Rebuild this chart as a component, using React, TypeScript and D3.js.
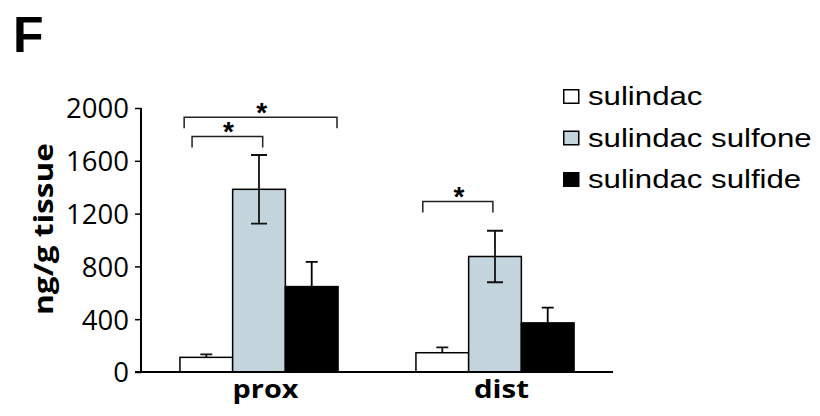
import { useEffect, useRef } from "react";
import * as d3 from "d3";

const regions = ["prox", "dist"];
const compounds = ["sulindac", "sulindac sulfone", "sulindac sulfide"];
const fills = ["#ffffff", "#c3d4dd", "#000000"];

// mean and error (ng/g tissue), per region, in compound order
const means = [
  [111, 1384, 647],
  [146, 875, 372],
];
const errors = [
  [23, 260, 187],
  [41, 195, 116],
];
// error bars drawn both ways only for the sulfone
const twoSided = [false, true, false];

const yTicks = [0, 400, 800, 1200, 1600, 2000];

// significance brackets: region, from compound, to compound, height (data units)
const brackets = [
  { region: "prox", from: 0, to: 2, level: 1930 },
  { region: "prox", from: 0, to: 1, level: 1785 },
  { region: "dist", from: 0, to: 1, level: 1292 },
];
// where a bracket leg sits inside its bar (fraction of bar width)
const bracketLegs = [
  [0.08, 0.98],
  [0.23, 0.57],
  [0.13, 0.46],
];

export default function App() {
  const svgRef = useRef<SVGSVGElement>(null);

  useEffect(() => {
    const svg = d3.select(svgRef.current);
    svg.selectAll("*").remove();
    const width = 820;
    const height = 416;
    svg.attr("viewBox", `0 0 ${width} ${height}`);

    const left = 141;
    const right = 613;
    const bottom = 372;
    const top = 108;

    const x = d3
      .scaleBand()
      .domain(regions)
      .range([left, right])
      .paddingInner(0.33)
      .paddingOuter(0.165);

    const xs = d3
      .scaleBand()
      .domain(compounds.map((_, i) => String(i)))
      .range([0, x.bandwidth()]);

    const y = d3.scaleLinear().domain([0, 2000]).range([bottom, top]);

    // panel letter
    svg
      .append("text")
      .attr("x", 13)
      .attr("y", 52)
      .attr("font-family", "Liberation Sans, Arial, sans-serif")
      .attr("font-weight", "bold")
      .attr("font-size", 50)
      .text("F");

    // y axis
    const yAxis = svg
      .append("g")
      .attr("transform", `translate(${left},0)`)
      .call(d3.axisLeft(y).tickValues(yTicks).tickSize(6).tickPadding(6).tickFormat(d3.format("d")));
    yAxis.select(".domain").attr("stroke", "#000").attr("stroke-width", 2).attr("d", `M0,${top}V${bottom}`);
    yAxis.selectAll(".tick line").attr("stroke", "#000").attr("stroke-width", 1.5);
    yAxis
      .selectAll(".tick text")
      .attr("font-family", "Open Sans, sans-serif")
      .attr("font-size", 27.5)
      .attr("fill", "#000")
      .attr("dy", "0.36em");

    svg
      .append("text")
      .attr("transform", `translate(53,229) rotate(-90)`)
      .attr("text-anchor", "middle")
      .attr("font-family", "Open Sans, sans-serif")
      .attr("font-weight", "bold")
      .attr("font-size", 27)
      .attr("textLength", 172)
      .attr("lengthAdjust", "spacingAndGlyphs")
      .text("ng/g tissue");

    // bars
    const groups = svg
      .selectAll(".grp")
      .data(regions)
      .enter()
      .append("g")
      .attr("transform", (d) => `translate(${x(d)},0)`);

    groups.each(function (region, ri) {
      const g = d3.select(this);
      means[ri].forEach((v, ci) => {
        const bx = xs(String(ci))!;
        const bw = xs.bandwidth();
        g.append("rect")
          .attr("x", bx)
          .attr("y", y(v))
          .attr("width", bw)
          .attr("height", y(0) - y(v))
          .attr("fill", fills[ci])
          .attr("stroke", "#000")
          .attr("stroke-width", 1.5);
        const cx = bx + bw / 2;
        const hi = y(v + errors[ri][ci]);
        const lo = twoSided[ci] ? y(v - errors[ri][ci]) : y(v);
        const cap = ci === 1 ? 8 : 6;
        g.append("path")
          .attr(
            "d",
            `M${cx},${lo}V${hi}M${cx - cap},${hi}H${cx + cap}` +
              (twoSided[ci] ? `M${cx - cap},${lo}H${cx + cap}` : "")
          )
          .attr("fill", "none")
          .attr("stroke", ci === 2 ? "#000" : "#111")
          .attr("stroke-width", 1.8);
      });
    });

    // x axis line
    svg
      .append("line")
      .attr("x1", 135)
      .attr("x2", right)
      .attr("y1", bottom)
      .attr("y2", bottom)
      .attr("stroke", "#000")
      .attr("stroke-width", 2);

    svg
      .selectAll(".cat")
      .data(regions)
      .enter()
      .append("text")
      .attr("x", (d) => x(d)! + x.bandwidth() / 2 + 6.5)
      .attr("y", 398)
      .attr("text-anchor", "middle")
      .attr("font-family", "Open Sans, sans-serif")
      .attr("font-weight", "bold")
      .attr("font-size", 25)
      .attr("textLength", (d) => (d === "prox" ? 66 : 55))
      .attr("lengthAdjust", "spacingAndGlyphs")
      .text((d) => d);

    // significance brackets
    brackets.forEach((b, i) => {
      const bw = xs.bandwidth();
      const x0 = x(b.region)! + xs(String(b.from))! + bw * bracketLegs[i][0];
      const x1 = x(b.region)! + xs(String(b.to))! + bw * bracketLegs[i][1];
      const by = y(b.level);
      svg
        .append("path")
        .attr("d", `M${x0},${by + 11}V${by}H${x1}V${by + 11}`)
        .attr("fill", "none")
        .attr("stroke", "#222")
        .attr("stroke-width", 1.5);
      svg
        .append("text")
        .attr("x", (x0 + x1) / 2 + 1)
        .attr("y", by + 5)
        .attr("text-anchor", "middle")
        .attr("font-family", "Liberation Sans, Arial, sans-serif")
        .attr("font-weight", "bold")
        .attr("font-size", 28)
        .text("*");
    });

    // legend
    const legend = svg
      .selectAll(".leg")
      .data(compounds)
      .enter()
      .append("g")
      .attr("transform", (_, i) => `translate(563,${89 + i * 41.5})`);
    legend
      .append("rect")
      .attr("x", 0.75)
      .attr("y", 0.75)
      .attr("width", 15)
      .attr("height", 13.5)
      .attr("fill", (_, i) => fills[i])
      .attr("stroke", "#000")
      .attr("stroke-width", 1.5);
    legend
      .append("text")
      .attr("transform", "translate(25,16) scale(1.2,1)")
      .attr("font-family", "Liberation Sans, Arial, sans-serif")
      .attr("font-size", 26)
      .text((d) => d);
  }, []);

  return (
    <svg
      ref={svgRef}
      width={820}
      height={416}
      style={{ position: "fixed", left: 0, top: 0, background: "#fff" }}
    />
  );
}
